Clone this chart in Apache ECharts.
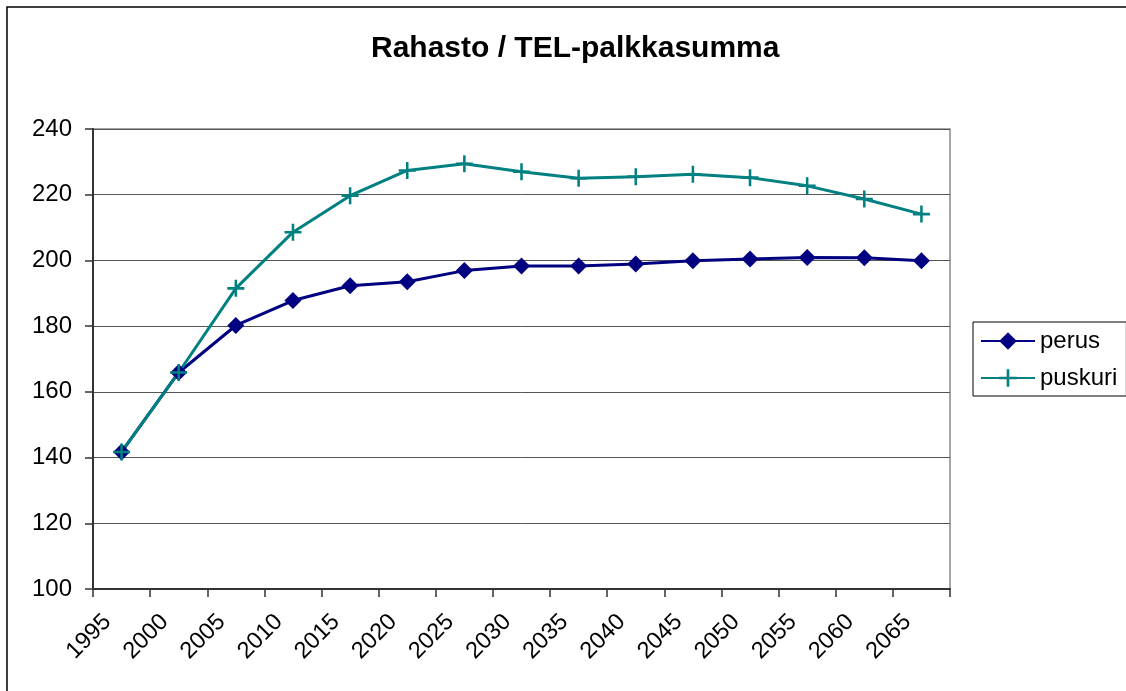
<!DOCTYPE html>
<html>
<head>
<meta charset="utf-8">
<title>Rahasto / TEL-palkkasumma</title>
<script src="https://cdn.jsdelivr.net/npm/echarts@6/dist/echarts.min.js"></script>
<style>
  html, body { margin: 0; padding: 0; background: #fff; }
  #chart { width: 1126px; height: 691px; }
</style>
</head>
<body>
<div id="chart"></div>
<script>
  // vuodet x-akselille
  var years = ['1995', '2000', '2005', '2010', '2015', '2020', '2025', '2030',
    '2035', '2040', '2045', '2050', '2055', '2060', '2065'];
  var perus = [141.7, 165.9, 180.2, 187.8, 192.3, 193.5, 196.9, 198.3,
    198.3, 198.9, 199.9, 200.4, 200.9, 200.8, 199.9];
  var puskuri = [141.7, 165.9, 191.5, 208.6, 219.7, 227.4, 229.4, 227.0,
    225.0, 225.5, 226.2, 225.2, 222.7, 218.7, 214.1];
  var seriesNames = ['perus', 'puskuri'];

  var font = "'Liberation Sans', Arial, sans-serif";
  var plusPath = 'path://M-1.2,-8H1.2V-1.2H8V1.2H1.2V8H-1.2V1.2H-8V-1.2H-1.2Z';

  var chart = echarts.init(document.getElementById('chart'));
  chart.setOption({
    animation: false,
    backgroundColor: '#fff',
    textStyle: {fontFamily: font, color: '#000'},
    title: {
      text: 'Rahasto / TEL-palkkasumma',
      left: 366,
      top: 29,
      textStyle: {fontFamily: font, fontSize: 30, fontWeight: 'bold', color: '#000'}
    },
    graphic: [{
      type: 'rect',
      shape: {x: 7, y: 7, width: 1200, height: 800},
      style: {fill: 'none', stroke: '#000', lineWidth: 1.5},
      silent: true
    }],
    legend: {
      orient: 'vertical',
      left: 973,
      top: 322,
      padding: [7, 9, 6, 7],
      itemWidth: 54,
      itemHeight: 22,
      itemGap: 13,
      borderColor: '#000',
      borderWidth: 1,
      data: seriesNames,
      textStyle: {fontFamily: font, fontSize: 24, color: '#000'}
    },
    grid: {
      left: 93,
      right: 176,
      top: 129,
      bottom: 102,
      show: true,
      borderColor: '#888',
      borderWidth: 1.5
    },
    xAxis: {
      type: 'category',
      data: years,
      boundaryGap: true,
      axisLine: {lineStyle: {color: '#333', width: 2}},
      axisTick: {show: true, length: 8, lineStyle: {color: '#333', width: 1.5}},
      axisLabel: {
        interval: 0,
        rotate: 45,
        margin: 15,
        padding: [0, 20, 0, 0],
        fontFamily: font,
        fontSize: 23.5,
        color: '#000'
      },
      splitLine: {show: false}
    },
    yAxis: {
      type: 'value',
      min: 100,
      max: 240,
      interval: 20,
      axisLine: {show: true, lineStyle: {color: '#333', width: 2}},
      axisTick: {show: true, length: 8, lineStyle: {color: '#333', width: 1.5}},
      axisLabel: {margin: 21, fontFamily: font, fontSize: 24, color: '#000'},
      splitLine: {lineStyle: {color: '#555', width: 1}}
    },
    series: [
      {
        name: 'perus',
        type: 'line',
        data: perus,
        symbol: 'diamond',
        symbolSize: 17,
        color: '#000080',
        lineStyle: {color: '#000080', width: 3},
        itemStyle: {color: '#000080'}
      },
      {
        name: 'puskuri',
        type: 'line',
        data: puskuri,
        symbol: plusPath,
        symbolSize: 17,
        color: '#008080',
        lineStyle: {color: '#008080', width: 3},
        itemStyle: {color: '#008080'}
      }
    ]
  });
</script>
</body>
</html>
